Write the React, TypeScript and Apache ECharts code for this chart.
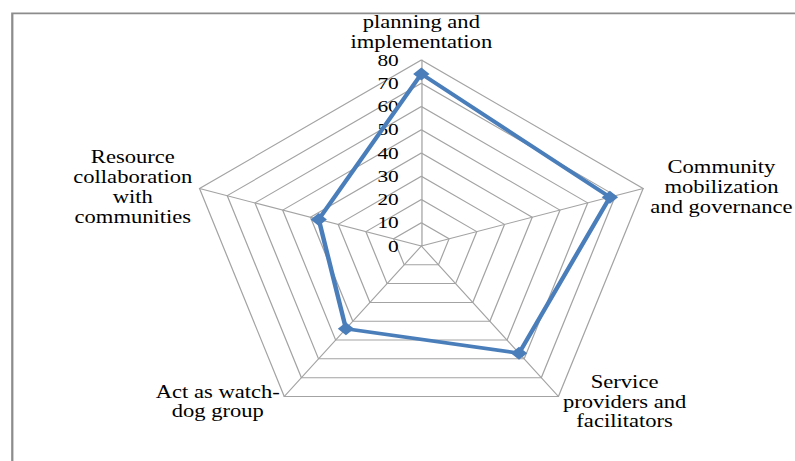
import React, { useEffect, useRef } from 'react';
import * as echarts from 'echarts';

// Radar axes, listed counter-clockwise from the top
const indicators = [
  'planning and\nimplementation',
  'Resource\ncollaboration\nwith\ncommunities',
  'Act as watch-\ndog group',
  'Service\nproviders and\nfacilitators',
  'Community\nmobilization\nand governance',
];
const scores = [74, 37, 44, 57, 68];
const axisMin = 0;
const axisMax = 80;
const ringCount = 8;

const WIDTH = 795;
const HEIGHT = 461;
// the plot is drawn narrower and widened horizontally
const STRETCH = 1.254;
const SERIF = '"Liberation Serif", "Times New Roman", "DejaVu Serif", serif';
const LINE_BLUE = '#4a7ebb';
const GRID_GREY = '#a3a3a3';

export default function App() {
  const ref = useRef<HTMLDivElement>(null);

  useEffect(() => {
    if (!ref.current) return;
    const chart = echarts.init(ref.current, undefined, { renderer: 'svg' });
    chart.setOption({
      animation: false,
      backgroundColor: '#ffffff',
      graphic: [
        {
          type: 'rect',
          silent: true,
          z: 0,
          shape: { x: 9.8, y: 13.3, width: 1000, height: 1000 },
          style: { fill: 'none', stroke: '#8c8c8c', lineWidth: 1.8 },
        },
      ],
      radar: {
        center: [336, 246],
        radius: 186,
        startAngle: 90,
        shape: 'polygon',
        splitNumber: ringCount,
        nameGap: 6,
        indicator: indicators.map((name, i) => ({
          name,
          min: axisMin,
          max: axisMax,
          ...(i === 0 ? { axisLabel: { show: true } } : {}),
        })),
        axisName: {
          color: '#000',
          fontFamily: SERIF,
          fontSize: 18,
          lineHeight: 20,
          formatter: (v: string) =>
            v
              .split('\n')
              .map((l) => `{c|${l}}`)
              .join('\n'),
          rich: {
            c: {
              align: 'center',
              color: '#000',
              fontFamily: SERIF,
              fontSize: 18,
              lineHeight: 20,
            },
          },
        },
        axisLine: { show: true, lineStyle: { color: GRID_GREY, width: 1 } },
        splitLine: { show: true, lineStyle: { color: GRID_GREY, width: 1 } },
        splitArea: { show: false },
        axisTick: { show: false },
        axisLabel: {
          show: false,
          color: '#000',
          fontFamily: SERIF,
          fontSize: 17,
          margin: 18,
          showMinLabel: true,
          showMaxLabel: true,
        },
      },
      series: [
        {
          type: 'radar',
          symbol: 'diamond',
          symbolSize: 13,
          lineStyle: { color: LINE_BLUE, width: 3.6 },
          itemStyle: { color: LINE_BLUE },
          data: [{ value: scores, name: 'Score' }],
        },
      ],
    });
    return () => chart.dispose();
  }, []);

  return (
    <div
      style={{
        position: 'absolute',
        left: 0,
        top: 0,
        width: WIDTH,
        height: HEIGHT,
        overflow: 'hidden',
        background: '#fff',
      }}
    >
      <div
        ref={ref}
        style={{
          width: WIDTH / STRETCH,
          height: HEIGHT,
          transform: `scaleX(${STRETCH})`,
          transformOrigin: '0 0',
        }}
      />
    </div>
  );
}
